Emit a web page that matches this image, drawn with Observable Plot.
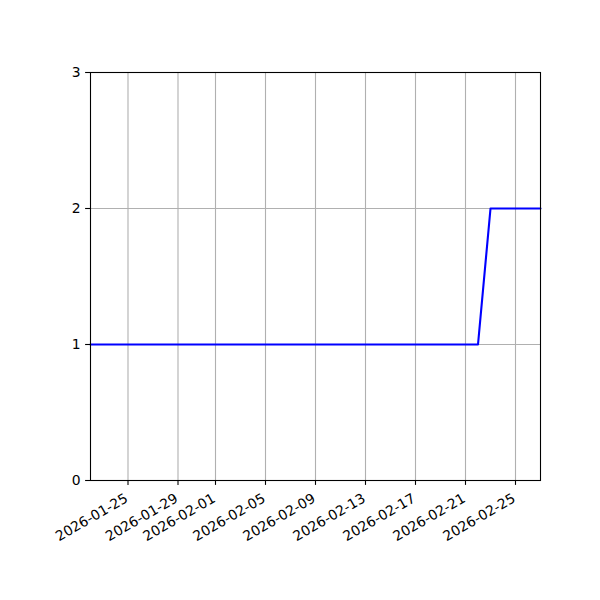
<!DOCTYPE html>
<html>
<head>
<meta charset="utf-8">
<script src="https://cdn.jsdelivr.net/npm/d3@7"></script>
<script src="https://cdn.jsdelivr.net/npm/@observablehq/plot@0.6"></script>
<style>
  html, body { margin: 0; padding: 0; background: #fff; }
  #chart svg { display: block; }
</style>
</head>
<body>
<div id="chart"></div>
<script>
const dates = [
  "2026-01-22","2026-01-23","2026-01-24","2026-01-25","2026-01-26","2026-01-27","2026-01-28","2026-01-29","2026-01-30","2026-01-31",
  "2026-02-01","2026-02-02","2026-02-03","2026-02-04","2026-02-05","2026-02-06","2026-02-07","2026-02-08","2026-02-09","2026-02-10",
  "2026-02-11","2026-02-12","2026-02-13","2026-02-14","2026-02-15","2026-02-16","2026-02-17","2026-02-18","2026-02-19","2026-02-20",
  "2026-02-21","2026-02-22","2026-02-23","2026-02-24","2026-02-25","2026-02-26","2026-02-27"
];
const values = [
  1,1,1,1,1,1,1,1,1,1,
  1,1,1,1,1,1,1,1,1,1,
  1,1,1,1,1,1,1,1,1,1,
  1,1,2,2,2,2,2
];
const xTickLabels = ["2026-01-25","2026-01-29","2026-02-01","2026-02-05","2026-02-09","2026-02-13","2026-02-17","2026-02-21","2026-02-25"];
const yTicks = [0, 1, 2, 3];
const xDomain = ["2026-01-22", "2026-02-27"];
const yDomain = [0, 3];

const parse = d3.utcParse("%Y-%m-%d");
const data = dates.map((d, i) => ({date: parse(d), value: values[i]}));
const xTicks = xTickLabels.map(parse);
const fmt = d3.utcFormat("%Y-%m-%d");

const chart = Plot.plot({
  width: 600,
  height: 600,
  marginLeft: 90,
  marginRight: 60,
  marginTop: 72,
  marginBottom: 120,
  style: {fontFamily: "DejaVu Sans", fontSize: "13.9px", color: "#000", background: "#fff"},
  x: {type: "utc", domain: xDomain.map(parse)},
  y: {domain: yDomain},
  marks: [
    Plot.gridX(xTicks, {stroke: "#b0b0b0", strokeOpacity: 1, strokeWidth: 1.1}),
    Plot.gridY(yTicks, {stroke: "#b0b0b0", strokeOpacity: 1, strokeWidth: 1.1}),
    Plot.line(data, {x: "date", y: "value", stroke: "#0000ff", strokeWidth: 2.1}),
    Plot.frame({stroke: "#000", strokeWidth: 1.1}),
    Plot.axisY({ticks: yTicks, tickSize: 4.9, tickPadding: 4.9, tickFormat: d => d, label: null, strokeWidth: 1.1}),
    Plot.axisX({ticks: xTicks, tickSize: 4.9, text: null, label: null, strokeWidth: 1.1}),
    Plot.text(xTicks, {x: d => d, frameAnchor: "bottom", text: d => fmt(d), rotate: -30,
      textAnchor: "end", lineAnchor: "top", dy: 12, dx: -4, fill: "#000", fontSize: 13.9})
  ]
});
document.getElementById("chart").appendChild(chart);
</script>
</body>
</html>
